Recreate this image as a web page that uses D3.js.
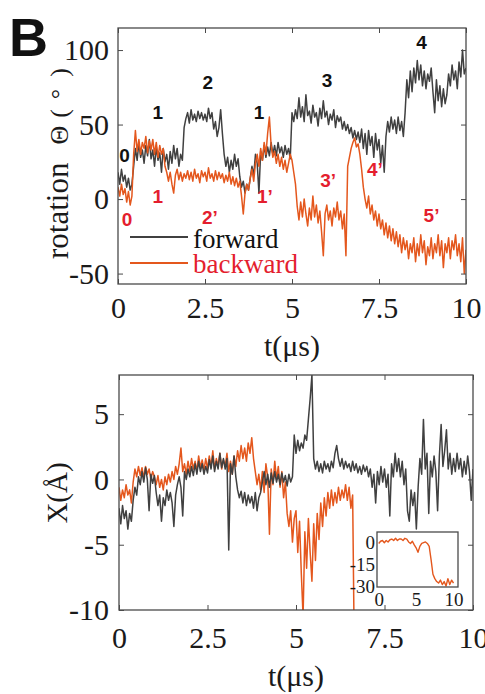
<!DOCTYPE html>
<html>
<head>
<meta charset="utf-8">
<script src="https://cdn.jsdelivr.net/npm/d3@7"></script>
<style>
  body { margin: 0; background: #fff; }
</style>
</head>
<body>
<div id="chart"></div>
<script>

// sampling step of the traces (microseconds)
var dt = 0.05;

// rotation angle (deg), forward run
var thetaFwd = [18,10,20,12,16,8,14,6,10,22,
  34,26,38,28,33,24,36,29,40,27,
  33,22,35,26,31,18,34,25,30,20,
  32,24,36,27,34,22,30,26,48,54,
  58,51,60,53,57,52,59,54,58,53,
  57,52,61,54,58,47,52,42,48,60,
  44,30,22,28,18,26,20,30,22,27,
  15,8,12,4,10,6,14,22,16,30,
  24,4,32,26,36,28,35,29,38,30,
  36,29,38,31,35,28,36,30,34,27,
  58,52,60,54,68,55,62,52,70,56,
  59,51,63,55,58,49,61,54,66,55,
  59,50,57,53,60,48,56,52,55,47,
  52,46,50,44,48,41,46,40,45,38,
  47,34,44,30,46,36,42,28,44,33,
  40,24,36,18,42,52,45,55,47,53,
  44,55,46,52,42,58,80,68,86,72,
  88,78,93,80,90,76,86,74,84,79,
  88,72,58,80,66,76,62,74,64,70,
  84,76,90,80,86,74,92,82,100,84,88];

// rotation angle (deg), backward run
var thetaBwd = [8,2,10,3,7,-2,5,-4,2,30,
  46,32,40,30,38,34,42,31,39,33,
  40,30,38,28,36,30,34,22,18,12,
  18,10,4,16,20,13,18,12,17,14,
  19,13,18,12,20,14,17,11,19,15,
  18,12,21,14,17,12,19,13,18,14,
  17,11,16,12,18,10,15,9,14,8,
  12,2,-10,4,10,6,14,20,12,24,
  30,22,34,26,38,30,44,55,36,28,
  32,24,30,22,28,20,26,18,24,30,
  26,18,10,-5,-14,-2,-12,0,-10,-18,
  -6,-14,2,-12,-4,-16,-8,-22,-38,-10,
  -4,-14,-8,-18,-6,-12,-2,-14,-8,-20,
  -10,-38,22,28,34,38,41,35,37,30,
  20,8,0,-6,2,-10,-4,-14,-8,-18,
  -10,-20,-14,-24,-16,-26,-18,-28,-20,-30,
  -22,-32,-24,-36,-26,-34,-28,-40,-30,-36,
  -26,-42,-30,-38,-24,-36,-28,-44,-32,-38,
  -26,-40,-30,-36,-24,-38,-28,-46,-30,-36,
  -26,-40,-28,-34,-24,-38,-30,-42,-26,-50,-34];

// displacement X (A), forward run
var xFwd = [-2.2,-3.4,-2.0,-3.0,-2.4,-3.8,-2.6,-3.2,-1.6,-0.6,
  -1.2,0.2,-0.4,0.6,-0.2,0.9,0.0,-2.4,0.4,-0.3,
  0.3,-1.0,-2.0,-1.2,-3.2,-1.4,-2.0,-0.8,-1.6,-1.0,
  -1.8,-3.6,-1.2,-0.4,0.2,-0.6,-2.8,0.6,0.0,0.8,
  0.2,1.0,0.3,1.2,0.4,1.4,0.6,1.2,0.4,1.0,
  0.5,1.5,0.8,1.8,0.6,1.4,0.8,2.0,0.9,1.6,
  0.8,1.6,-5.4,1.2,0.4,1.8,0.2,-0.8,-1.4,-0.9,
  -1.8,-1.0,-2.0,-1.2,-1.8,-1.3,-2.2,-1.0,-2.4,-1.4,
  -1.0,-0.2,0.6,-0.4,0.4,-0.6,0.5,-0.3,0.6,-0.2,
  0.4,-0.4,0.5,-0.2,0.3,-0.5,0.4,-0.2,0.2,3.4,
  2.0,3.0,2.2,2.8,2.4,3.4,3.0,4.6,6.2,8.0,
  1.6,0.8,1.4,0.6,1.2,0.5,1.4,0.8,1.2,0.6,
  1.4,0.9,2.0,2.6,1.6,1.0,1.6,0.8,1.4,0.9,
  1.2,0.6,1.4,0.7,1.2,0.5,1.0,0.4,1.1,0.6,
  1.0,0.2,0.8,-0.6,0.4,-1.8,0.6,-0.4,1.0,-0.2,
  0.8,-0.6,0.4,-2.8,1.2,0.2,2.0,0.6,1.6,0.2,
  1.4,-0.4,0.8,-2.4,-3.2,-0.8,-2.0,-1.0,-3.8,-0.6,
  1.6,0.4,4.6,0.8,2.0,-2.6,1.4,0.2,1.8,0.6,
  -2.4,1.8,4.2,1.0,2.2,3.8,0.8,2.0,0.4,1.6,
  0.6,2.0,0.8,1.6,0.2,1.4,0.4,1.8,0.6,-1.6,0.8];

// displacement X (A), backward run (leaves the axis after ~6.6 us)
var xBwd = [-0.6,-1.6,-0.8,-1.4,-0.4,-1.2,-0.8,-1.8,-0.2,0.8,
  0.2,1.0,0.3,0.9,0.1,1.0,0.4,0.8,0.0,0.6,
  0.2,-0.4,0.3,-0.6,0.0,-0.8,0.2,-0.4,0.4,-0.2,
  0.6,0.0,1.0,0.4,1.2,2.4,0.6,1.2,0.4,1.4,
  0.6,1.6,0.8,1.4,0.6,1.8,0.9,1.5,0.7,1.6,
  0.8,1.8,1.0,2.2,0.8,1.6,1.0,2.0,0.8,1.5,
  1.0,2.0,0.6,1.4,0.4,1.8,1.0,2.2,1.4,2.6,
  1.6,2.4,1.4,2.8,2.0,3.2,1.6,0.6,-0.4,0.4,
  -0.8,0.6,-1.0,1.2,0.2,-4.2,0.8,-0.4,1.4,0.0,
  1.0,-0.6,0.6,-1.4,-0.2,-2.6,-3.6,-2.4,-4.8,-3.0,
  -2.4,-5.6,-3.2,-7.2,-10.5,-4.0,-6.8,-3.0,-5.6,-7.8,
  -3.4,-6.2,-2.6,-4.6,-1.8,-3.6,-1.4,-2.8,-1.0,-2.2,
  -0.8,-2.0,-1.0,-1.8,-0.6,-1.6,-0.8,-1.4,-0.4,-1.6,
  -0.6,-2.2,-1.2,-14];

// inset: full backward X trace, coarser sampling
var insetDt = 0.25;
var xBwdFull = [-1,0.5,1,-0.5,1,0,1.5,2,1,2.5,
  1,2,2,1,2.5,2,0,-1,0.5,-2,
  -4,-7,-3,-1,-0.5,0,-1,-3,-12,-22,
  -25,-27,-28,-26,-29,-27,-30,-25,-29,-26,-28];

var tTicks = [0, 2.5, 5, 7.5, 10];
var thetaTicks = [-50, 0, 50, 100];
var xTicks = [-10, -5, 0, 5];
var insetTTicks = [0, 5, 10];
var insetYTicks = [0, -15, -30];

// state labels (text, t, theta)
var fwdStates = ["0", "1", "2", "1", "3", "4"];
var fwdStateT = [0.19, 1.14, 2.58, 4.05, 6.01, 8.72];
var fwdStateV = [29.7, 58.4, 78.5, 58.4, 79.6, 105.4];
var bwdStates = ["0", "1", "2’", "1’", "3’", "4’", "5’"];
var bwdStateT = [0.26, 1.14, 2.64, 4.22, 6.04, 7.38, 9.01];
var bwdStateV = [-13.2, 1.8, -12, 1.8, 13, 20.3, -11];

var grey = "#404040", orange = "#e4571d", red = "#e41e2e", axisCol = "#4a4a4a";
var serif = "'Liberation Serif','Times New Roman',serif";
var sans = "'Liberation Sans',Arial,sans-serif";

var svg = d3.select("#chart").append("svg")
    .attr("width", 485)
    .attr("height", 694);

function series(vals, step) {
  return vals.map(function(v, i) { return [i * step, v]; });
}

function fmt(d) { return String(d); }

// box, inward ticks on all four sides, tick labels left and bottom
function frame(g, x, y, w, h, xt, yt, o) {
  g.append("g")
      .attr("transform", "translate(0," + h + ")")
      .call(d3.axisBottom(x).tickValues(xt).tickSizeInner(-o.tick).tickSizeOuter(0).tickPadding(o.xpad).tickFormat(fmt));
  g.append("g")
      .call(d3.axisTop(x).tickValues(xt).tickSizeInner(-o.tick).tickSizeOuter(0).tickFormat(""));
  g.append("g")
      .call(d3.axisLeft(y).tickValues(yt).tickSizeInner(-o.tick).tickSizeOuter(0).tickPadding(o.ypad).tickFormat(fmt));
  g.append("g")
      .attr("transform", "translate(" + w + ",0)")
      .call(d3.axisRight(y).tickValues(yt).tickSizeInner(-o.tick).tickSizeOuter(0).tickFormat(""));
  g.selectAll(".domain").remove();
  g.selectAll(".tick line").attr("stroke", axisCol).attr("stroke-width", 1);
  g.selectAll(".tick text")
      .attr("fill", "#1a1a1a")
      .style("font-family", serif)
      .style("font-size", o.font + "px");
  g.append("rect")
      .attr("width", w)
      .attr("height", h)
      .attr("fill", "none")
      .attr("stroke", axisCol)
      .attr("stroke-width", 1.3);
}

function trace(g, x, y, data, color, clipId, sw) {
  g.append("path")
      .datum(data)
      .attr("clip-path", "url(#" + clipId + ")")
      .attr("fill", "none")
      .attr("stroke", color)
      .attr("stroke-width", sw)
      .attr("stroke-linejoin", "round")
      .attr("d", d3.line().x(function(d) { return x(d[0]); }).y(function(d) { return y(d[1]); }));
}

function clip(id, w, h) {
  svg.append("clipPath").attr("id", id)
    .append("rect").attr("width", w).attr("height", h);
}

// ---- top panel: rotation ----
var p1 = {left: 118, top: 28, width: 348, height: 256};
var g1 = svg.append("g").attr("transform", "translate(" + p1.left + "," + p1.top + ")");
var x1 = d3.scaleLinear().domain([0, 10]).range([0, p1.width]);
var y1 = d3.scaleLinear().domain([-57, 114.8]).range([p1.height, 0]);
clip("clip1", p1.width, p1.height);

trace(g1, x1, y1, series(thetaFwd, dt), grey, "clip1", 1.5);
trace(g1, x1, y1, series(thetaBwd, dt), orange, "clip1", 1.5);

frame(g1, x1, y1, p1.width, p1.height, tTicks, thetaTicks, {tick: 5, xpad: 13, ypad: 9, font: 30});

g1.selectAll(".fwd-state")
  .data(fwdStates)
  .enter().append("text")
    .attr("class", "fwd-state")
    .attr("x", function(d, i) { return x1(fwdStateT[i]); })
    .attr("y", function(d, i) { return y1(fwdStateV[i]); })
    .attr("dy", "0.36em")
    .attr("text-anchor", "middle")
    .style("font-family", sans)
    .style("font-weight", "bold")
    .style("font-size", "19px")
    .attr("fill", "#111")
    .text(function(d) { return d; });

g1.selectAll(".bwd-state")
  .data(bwdStates)
  .enter().append("text")
    .attr("class", "bwd-state")
    .attr("x", function(d, i) { return x1(bwdStateT[i]); })
    .attr("y", function(d, i) { return y1(bwdStateV[i]); })
    .attr("dy", "0.36em")
    .attr("text-anchor", "middle")
    .style("font-family", sans)
    .style("font-weight", "bold")
    .style("font-size", "19px")
    .attr("fill", red)
    .text(function(d) { return d; });

// legend
var leg = g1.append("g").attr("transform", "translate(12,209)");
leg.append("line").attr("x1", 0).attr("x2", 58).attr("y1", 0).attr("y2", 0)
    .attr("stroke", grey).attr("stroke-width", 2.2);
leg.append("text").attr("x", 63).attr("y", 11).text("forward")
    .style("font-family", serif).style("font-size", "27px").attr("fill", "#111");
leg.append("line").attr("x1", 0).attr("x2", 58).attr("y1", 26).attr("y2", 26)
    .attr("stroke", orange).attr("stroke-width", 2.2);
leg.append("text").attr("x", 63).attr("y", 36).text("backward")
    .style("font-family", serif).style("font-size", "27px").attr("fill", red);

svg.append("text")
    .attr("x", 292).attr("y", 356)
    .attr("text-anchor", "middle")
    .style("font-family", serif).style("font-size", "30px").attr("fill", "#1a1a1a")
    .text("t(μs)");

// y label, drawn bottom to top
var ylab = svg.append("text")
    .attr("transform", "translate(68,0) rotate(-90)")
    .attr("x", -259)
    .style("font-family", serif).style("font-size", "31px").attr("fill", "#1a1a1a");
ylab.append("tspan").text("rotation");
ylab.append("tspan").attr("dx", 18).style("font-size", "26px").text("Θ");
ylab.append("tspan").attr("dx", 8).style("font-size", "26px").text("(");
ylab.append("tspan").attr("dx", 10).style("font-size", "26px").text("°");
ylab.append("tspan").attr("dx", 12).style("font-size", "26px").text(")");

svg.append("text")
    .attr("x", 9).attr("y", 56)
    .style("font-family", sans).style("font-weight", "bold").style("font-size", "54px")
    .attr("fill", "#111")
    .text("B");

// ---- bottom panel: displacement ----
var p2 = {left: 119, top: 375, width: 354, height: 235};
var g2 = svg.append("g").attr("transform", "translate(" + p2.left + "," + p2.top + ")");
var x2 = d3.scaleLinear().domain([0, 10]).range([0, p2.width]);
var y2 = d3.scaleLinear().domain([-10, 8]).range([p2.height, 0]);
clip("clip2", p2.width, p2.height);

trace(g2, x2, y2, series(xBwd, dt), orange, "clip2", 1.5);
trace(g2, x2, y2, series(xFwd, dt), grey, "clip2", 1.5);

frame(g2, x2, y2, p2.width, p2.height, tTicks, xTicks, {tick: 5, xpad: 17, ypad: 10, font: 30});

svg.append("text")
    .attr("x", 296).attr("y", 686)
    .attr("text-anchor", "middle")
    .style("font-family", serif).style("font-size", "30px").attr("fill", "#1a1a1a")
    .text("t(μs)");

svg.append("text")
    .attr("transform", "translate(67,493) rotate(-90)")
    .attr("text-anchor", "middle")
    .style("font-family", serif).style("font-size", "29px").attr("fill", "#1a1a1a")
    .text("X(Å)");

// ---- inset: full backward X ----
var p3 = {left: 377, top: 532, width: 81, height: 55};
var g3 = svg.append("g").attr("transform", "translate(" + p3.left + "," + p3.top + ")");
var x3 = d3.scaleLinear().domain([-0.23, 10.6]).range([0, p3.width]);
var y3 = d3.scaleLinear().domain([-30.7, 6.8]).range([p3.height, 0]);
clip("clip3", p3.width, p3.height);

g3.append("rect").attr("width", p3.width).attr("height", p3.height).attr("fill", "#fff");
trace(g3, x3, y3, series(xBwdFull, insetDt), orange, "clip3", 1.4);
frame(g3, x3, y3, p3.width, p3.height, insetTTicks, insetYTicks, {tick: 0, xpad: 6, ypad: 2, font: 19});

</script>
</body>
</html>
